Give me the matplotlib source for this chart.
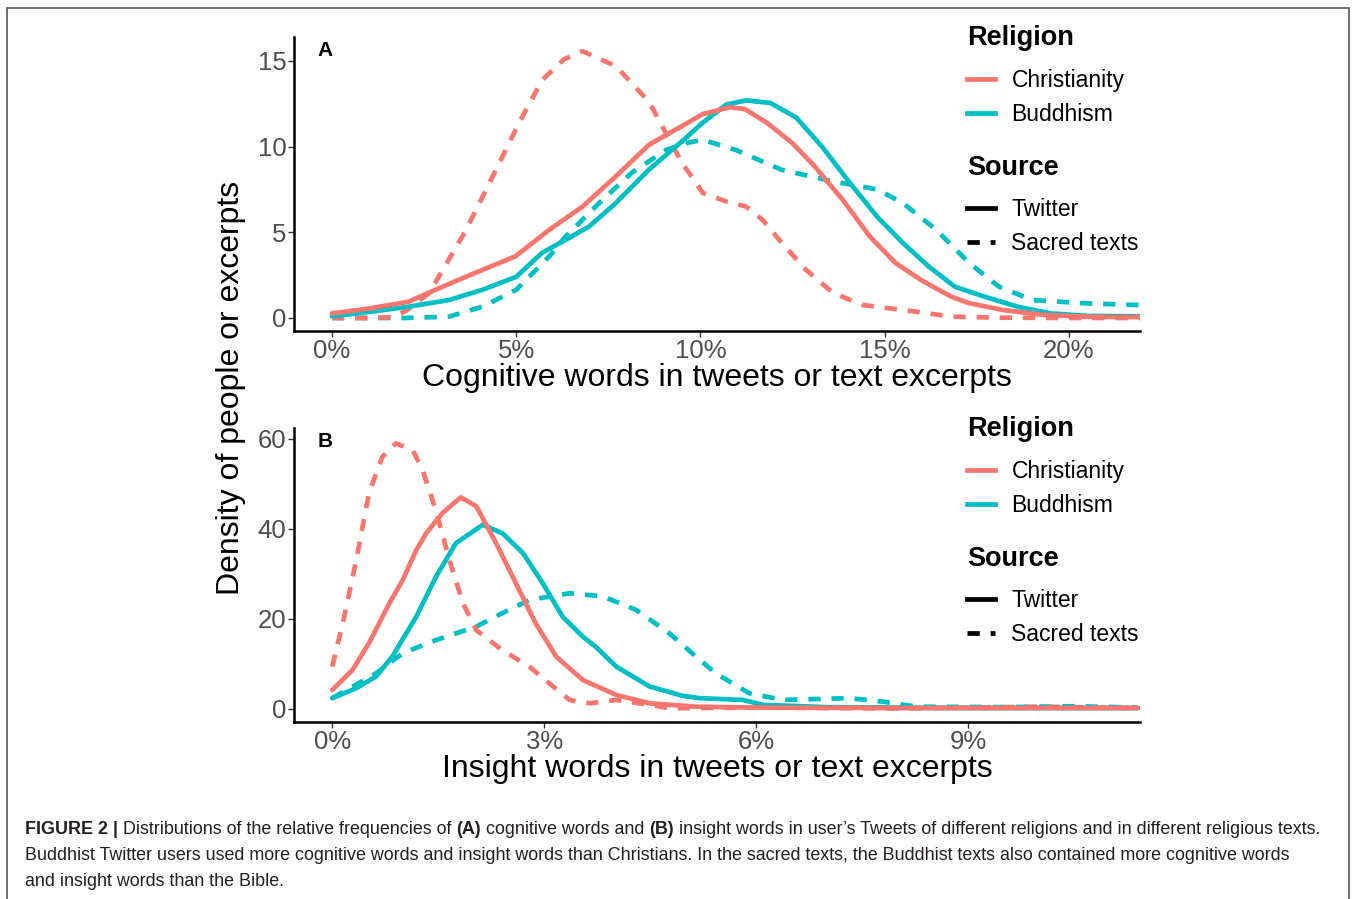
import matplotlib
matplotlib.use("Agg")
import matplotlib.pyplot as plt
from matplotlib.lines import Line2D
from matplotlib.patches import Rectangle
from matplotlib.ticker import FuncFormatter

plt.rcParams['font.family'] = ['Liberation Sans', 'DejaVu Sans']

RED = '#F8766D'
TEAL = '#00BFC4'
GREY = '#4D4D4D'

# ---- panel A: cognitive words (x in percent) ----
a_chr_tw_x = [0, 1.0, 2.08, 2.8, 3.63, 4.98, 5.9, 6.8, 7.7, 8.6, 9.16, 9.5, 10.06, 10.8, 11.2, 11.8,
              12.5, 13.1, 13.86, 14.6, 15.3, 16.0, 16.8, 17.3, 18.2, 19.3, 20.5, 22.0]
a_chr_tw_y = [0.27, 0.55, 0.95, 1.64, 2.4, 3.6, 5.15, 6.5, 8.26, 10.1, 10.8, 11.2, 11.9, 12.3, 12.2, 11.4,
              10.2, 8.85, 6.9, 4.75, 3.2, 2.2, 1.25, 0.86, 0.47, 0.18, 0.07, 0.05]

a_bud_tw_x = [0, 1.0, 2.08, 3.18, 4.08, 5.0, 5.7, 6.34, 6.98, 7.7, 8.6, 9.55, 10.06, 10.7, 11.24, 11.9,
              12.6, 13.3, 14.05, 14.8, 15.5, 16.2, 16.9, 17.7, 18.6, 19.5, 20.5, 22.0]
a_bud_tw_y = [0.1, 0.35, 0.66, 1.05, 1.64, 2.4, 3.8, 4.56, 5.34, 6.7, 8.65, 10.4, 11.4, 12.45, 12.7, 12.55,
              11.7, 10.0, 7.9, 5.9, 4.37, 3.0, 1.83, 1.25, 0.66, 0.27, 0.12, 0.1]

a_chr_st_x = [0, 1.0, 1.6, 2.0, 2.64, 3.63, 4.45, 5.08, 5.71, 6.3, 6.8, 7.71, 8.61, 9.16, 9.5, 9.88,
              10.06, 10.7, 11.24, 11.7, 12.2, 12.87, 13.6, 14.4, 15.86, 16.8, 18.0, 20.0, 22.0]
a_chr_st_y = [0.0, 0.0, 0.05, 0.4, 1.46, 5.1, 8.65, 11.4, 13.9, 15.1, 15.57, 14.7, 12.6, 10.4, 9.05, 7.9,
              7.3, 6.8, 6.5, 5.7, 4.4, 2.8, 1.46, 0.76, 0.37, 0.08, 0.02, 0.0, 0.0]

a_bud_st_x = [0, 1.0, 2.0, 3.18, 4.08, 5.0, 5.9, 6.34, 7.25, 8.15, 9.06, 9.6, 10.06, 10.97, 12.2, 13.6,
              14.8, 15.5, 16.4, 17.3, 18.1, 19.0, 20.4, 21.8, 22.0]
a_bud_st_y = [0.0, 0.0, 0.0, 0.08, 0.66, 1.64, 3.6, 4.75, 6.7, 8.5, 9.8, 10.2, 10.4, 9.8, 8.65, 7.97,
              7.5, 6.7, 5.15, 3.2, 1.83, 1.05, 0.86, 0.76, 0.75]

# ---- panel B: insight words ----
b_chr_tw_x = [0, 0.29, 0.52, 0.81, 1.0, 1.19, 1.33, 1.56, 1.82, 2.04, 2.32, 2.6, 2.88, 3.17, 3.55,
              4.02, 4.49, 5.15, 6.0, 8.0, 10.0, 11.4]
b_chr_tw_y = [4.2, 8.7, 14.6, 23.5, 28.7, 35.3, 39.0, 43.5, 47.0, 45.0, 36.8, 27.9, 19.0, 11.6, 6.4,
              3.1, 1.26, 0.5, 0.3, 0.2, 0.2, 0.2]

b_bud_tw_x = [0, 0.34, 0.62, 0.85, 1.19, 1.47, 1.75, 2.13, 2.41, 2.7, 2.98, 3.26, 3.55, 3.73, 4.02,
              4.49, 4.96, 5.2, 5.5, 5.81, 6.1, 7.0, 9.0, 11.4]
b_bud_tw_y = [2.4, 4.6, 7.2, 11.6, 20.5, 29.4, 36.8, 40.9, 39.0, 34.6, 27.9, 20.5, 16.0, 13.8, 9.4,
              5.0, 2.9, 2.4, 2.2, 2.0, 0.9, 0.4, 0.2, 0.2]

b_chr_st_x = [0, 0.15, 0.34, 0.52, 0.71, 0.9, 1.14, 1.28, 1.47, 1.66, 1.85, 2.04, 2.41, 2.79, 3.07,
              3.36, 3.64, 4.02, 4.5, 4.77, 6.0, 8.0, 10.0, 11.4]
b_chr_st_y = [9.4, 19, 33, 47.9, 56, 59, 57.5, 53, 44, 33, 23.5, 17.5, 13, 9.4, 5.7,
              2.0, 1.26, 2.0, 0.9, 0.15, 0.3, 0.1, 0.5, 0.2]

b_bud_st_x = [0, 0.62, 1.0, 1.47, 2.04, 2.41, 2.79, 3.36, 3.83, 4.3, 4.77, 5.2, 5.43, 5.9, 6.38,
              7.32, 7.8, 8.27, 9.5, 10.5, 11.4]
b_bud_st_y = [2.4, 7.9, 12.4, 15.3, 18.3, 21.3, 24.2, 25.7, 25.0, 22.0, 16.8, 10.9, 7.9, 3.5, 2.0,
              2.4, 1.6, 0.5, 0.4, 0.6, 0.3]

religions = ['Christianity', 'Buddhism']
sources = ['Twitter', 'Sacred texts']

LW = 3.4
DASH = (2.6, 2.3)

fig = plt.figure(figsize=(13.57, 8.99), dpi=100)

# thin frame around the whole figure
fig.add_artist(Rectangle((7 / 1357, -0.02), 1342 / 1357, 1 - 8 / 899 + 0.02,
                         transform=fig.transFigure, fill=False, ec='#555555', lw=1.2))

axA = fig.add_axes([294 / 1357, 1 - 331 / 899, 846 / 1357, 294 / 899])
axB = fig.add_axes([294 / 1357, 1 - 722 / 899, 846 / 1357, 294 / 899])


def draw(ax, curves):
    for (x, y, col, ls) in curves:
        if ls == 'dashed':
            ax.plot(x, y, color=col, lw=LW, dashes=DASH, solid_capstyle='butt')
        else:
            ax.plot(x, y, color=col, lw=LW, solid_capstyle='round')


draw(axA, [(a_bud_st_x, a_bud_st_y, TEAL, 'dashed'),
           (a_chr_st_x, a_chr_st_y, RED, 'dashed'),
           (a_bud_tw_x, a_bud_tw_y, TEAL, 'solid'),
           (a_chr_tw_x, a_chr_tw_y, RED, 'solid')])
draw(axB, [(b_bud_st_x, b_bud_st_y, TEAL, 'dashed'),
           (b_chr_st_x, b_chr_st_y, RED, 'dashed'),
           (b_bud_tw_x, b_bud_tw_y, TEAL, 'solid'),
           (b_chr_tw_x, b_chr_tw_y, RED, 'solid')])

axA.set_xlim(-1.03, 21.93)
axA.set_ylim(-0.76, 16.4)
axA.set_xticks([0, 5, 10, 15, 20])
axA.set_yticks([0, 5, 10, 15])
axA.set_xlabel('Cognitive words in tweets or text excerpts', fontsize=23, labelpad=0)

axB.set_xlim(-0.54, 11.43)
axB.set_ylim(-2.9, 62.4)
axB.set_xticks([0, 3, 6, 9])
axB.set_yticks([0, 20, 40, 60])
axB.set_xlabel('Insight words in tweets or text excerpts', fontsize=23, labelpad=0)

pct = FuncFormatter(lambda v, p: '%d%%' % round(v))


def make_legend(ax, handles, labels, title, y):
    leg = ax.legend(handles, labels, title=title, loc='upper left',
                    bbox_to_anchor=(0.7955, y), frameon=False, fontsize=16.5,
                    title_fontproperties={'weight': 'bold', 'size': 19.5},
                    handlelength=1.22, handletextpad=0.72, labelspacing=0.48,
                    borderpad=0, borderaxespad=0, alignment='left')
    # more room between the title and the first key, as in ggplot
    leg._legend_box.sep = 12.5
    return leg


for ax, letter in [(axA, 'A'), (axB, 'B')]:
    ax.xaxis.set_major_formatter(pct)
    for s in ['top', 'right']:
        ax.spines[s].set_visible(False)
    for s in ['left', 'bottom']:
        ax.spines[s].set_linewidth(1.8)
    ax.tick_params(labelsize=18.5, labelcolor=GREY, color='#333333', length=4, width=1, pad=1.5)
    ax.text(0.028, 0.955, letter, transform=ax.transAxes, fontsize=15, fontweight='bold',
            ha='left', va='center')

    h_rel = [Line2D([], [], color=RED, lw=LW), Line2D([], [], color=TEAL, lw=LW)]
    h_src = [Line2D([], [], color='black', lw=LW),
             Line2D([], [], color='black', lw=LW, dashes=DASH)]
    leg1 = make_legend(ax, h_rel, religions, 'Religion', 1.04)
    ax.add_artist(leg1)
    make_legend(ax, h_src, sources, 'Source', 0.60)

fig.text(231 / 1357, 1 - 388 / 899, 'Density of people or excerpts', rotation=90,
         fontsize=23, ha='center', va='center')

# caption with bold pieces
caption = [
    [('FIGURE 2 |', True), (' Distributions of the relative frequencies of ', False), ('(A)', True),
     (' cognitive words and ', False), ('(B)', True),
     (' insight words in user\u2019s Tweets of different religions and in different religious texts.', False)],
    [('Buddhist Twitter users used more cognitive words and insight words than Christians. In the sacred '
      'texts, the Buddhist texts also contained more cognitive words', False)],
    [('and insight words than the Bible.', False)],
]
cap_y = [830, 856, 882]
fig.canvas.draw()
renderer = fig.canvas.get_renderer()
for line, yy in zip(caption, cap_y):
    x = 25 / 1357
    for s, bold in line:
        t = fig.text(x, 1 - yy / 899, s, fontsize=12.9, color='#231F20', ha='left', va='center',
                     fontweight='bold' if bold else 'normal')
        bb = t.get_window_extent(renderer)
        x += bb.width / fig.bbox.width

fig.savefig('out.png', dpi=100)
